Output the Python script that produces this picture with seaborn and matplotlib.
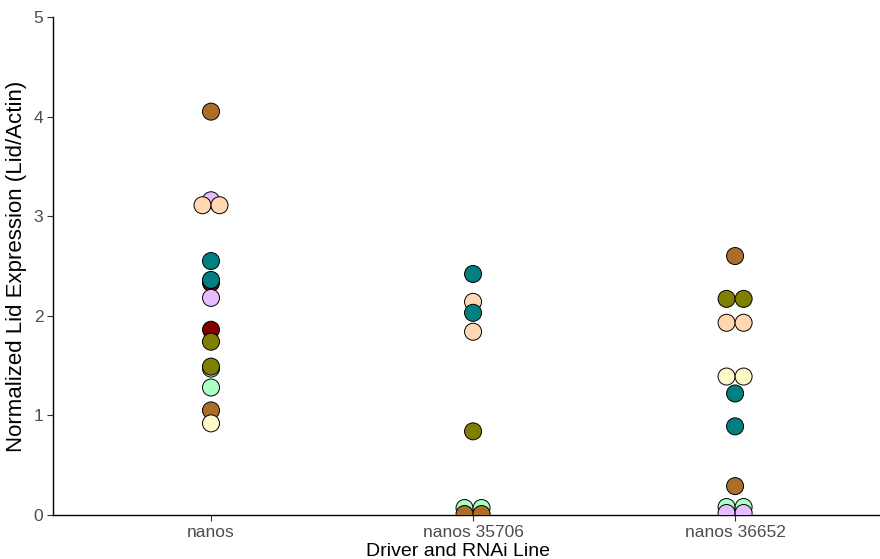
import numpy as np
import pandas as pd
import matplotlib
matplotlib.use("Agg")
import matplotlib.pyplot as plt
import seaborn as sns

# Genotypes on the x axis
genotypes = ["nanos", "nanos 35706", "nanos 36652"]

# Per-measurement records: genotype, biological sample, normalized expression
nanos_samples = ["brown", "brown", "lavender", "lavender", "apricot", "apricot",
                 "teal", "teal", "maroon", "maroon", "olive", "olive",
                 "mint", "mint", "beige"]
nanos_values = [4.05, 1.05, 3.16, 2.18, 3.11, 3.11,
                2.55, 2.36, 2.33, 1.86, 1.74, 1.49,
                1.47, 1.28, 0.92]

rnai_35706_samples = ["teal", "teal", "apricot", "apricot", "olive",
                      "mint", "mint", "brown", "brown"]
rnai_35706_values = [2.42, 2.03, 2.14, 1.84, 0.84,
                     0.07, 0.07, 0.01, 0.01]

rnai_36652_samples = ["brown", "brown", "olive", "olive", "apricot", "apricot",
                      "beige", "beige", "teal", "teal", "mint", "mint",
                      "lavender", "lavender"]
rnai_36652_values = [2.60, 0.29, 2.17, 2.17, 1.93, 1.93,
                     1.39, 1.39, 1.22, 0.89, 0.08, 0.08,
                     0.02, 0.02]

df = pd.concat([
    pd.DataFrame({"genotype": g, "sample": s, "value": v})
    for g, s, v in [
        ("nanos", nanos_samples, nanos_values),
        ("nanos 35706", rnai_35706_samples, rnai_35706_values),
        ("nanos 36652", rnai_36652_samples, rnai_36652_values),
    ]
], ignore_index=True)

# Fill colours per sample and the order in which samples are drawn
sample_order = ["maroon", "mint", "brown", "beige", "lavender", "apricot", "teal", "olive"]
sample_colors = {
    "maroon": "#800000",
    "mint": "#AAFFC3",
    "brown": "#AA6E28",
    "beige": "#FFFAC8",
    "lavender": "#E6BEFF",
    "apricot": "#FFD8B1",
    "teal": "#008080",
    "olive": "#808000",
}

# Side-by-side placement for tied values within a genotype
df["code"] = df["genotype"].map({g: i for i, g in enumerate(genotypes)})
grp = df.groupby(["genotype", "value"])
df["n_tie"] = grp["value"].transform("size")
df["k_tie"] = grp.cumcount()
spread = 0.0325
df["xpos"] = df["code"] + (df["k_tie"] - (df["n_tie"] - 1) / 2) * 2 * spread

df["draw_rank"] = df["sample"].map({s: i for i, s in enumerate(sample_order)})
df = df.sort_values("draw_rank", kind="stable")

sns.set_theme(style="ticks")
plt.rcParams["font.family"] = ["Liberation Sans", "DejaVu Sans"]

fig = plt.figure(figsize=(8.8, 5.59), dpi=100)
ax = fig.add_axes([53 / 880, 44 / 559, 1 - 53 / 880, 498 / 559])

sns.scatterplot(
    data=df, x="xpos", y="value", hue="sample", palette=sample_colors,
    hue_order=sample_order, s=150, edgecolor="black", linewidth=0.7,
    legend=False, ax=ax, zorder=3,
)

ax.set_xlim(-0.603, 2.553)
ax.set_ylim(0, 5)
ax.set_xticks(range(len(genotypes)))
ax.set_xticklabels(genotypes)
ax.set_yticks([0, 1, 2, 3, 4, 5])
ax.tick_params(axis="both", length=4, width=0.8, color="#333333",
               labelsize=12.5, labelcolor="#4D4D4D", pad=3)
for side in ("top", "right"):
    ax.spines[side].set_visible(False)
for side in ("left", "bottom"):
    ax.spines[side].set_linewidth(1.0)
    ax.spines[side].set_color("black")

ax.set_xlabel("Driver and RNAi Line", fontsize=14, color="black", labelpad=2)
ax.xaxis.label.set_x(0.49)
ax.set_ylabel("Normalized Lid Expression (Lid/Actin)", fontsize=16, color="black", labelpad=5)

fig.savefig("out.png", dpi=100)
